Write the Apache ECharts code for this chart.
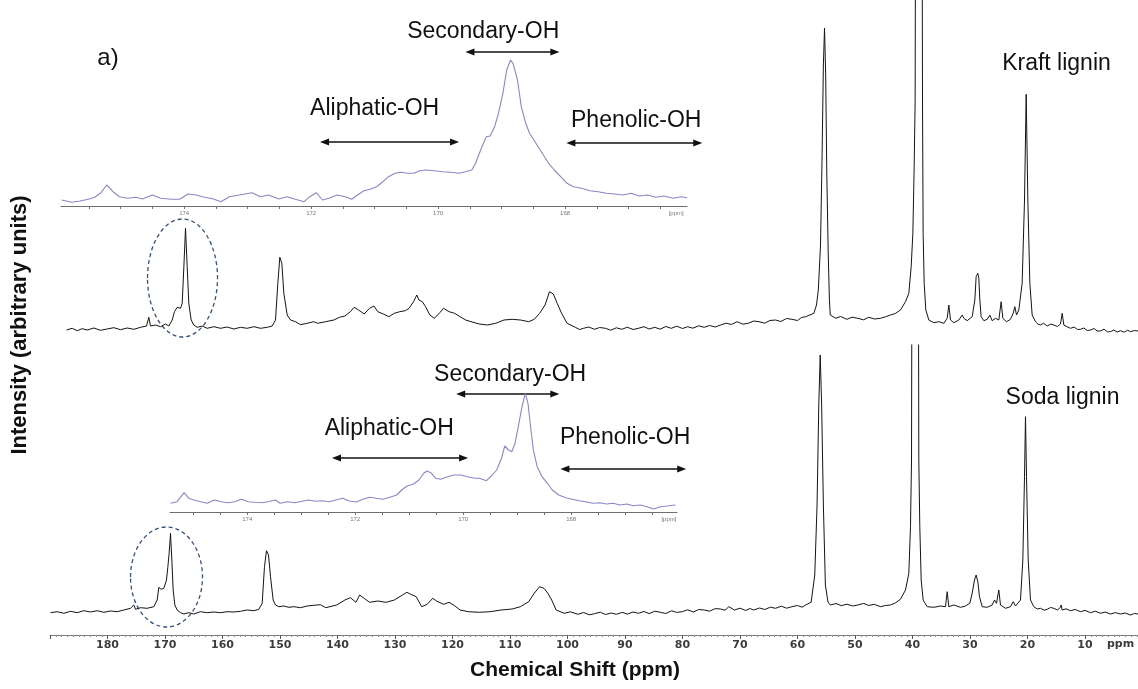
<!DOCTYPE html>
<html>
<head>
<meta charset="utf-8">
<script src="https://cdn.jsdelivr.net/npm/echarts@6/dist/echarts.min.js"></script>
<style>
  html, body { margin: 0; padding: 0; background: #ffffff; }
  #chart { width: 1138px; height: 689px; }
</style>
</head>
<body>
<div id="chart"></div>
<script>
// 13C NMR spectra of acetylated lignins: [chemical shift (ppm), intensity (arbitrary units)]
const kraftSpectrum = [
  [187.13,15],[186.14,16.7],[185.27,14.3],[184.41,16.3],[183.54,15],[182.38,17],[181.22,14.7],[180.06,16],
  [178.9,17.3],[177.74,15.3],[176.58,17],[175.42,15.7],[174.26,17.7],[173.22,19],[172.81,27.7],[172.52,19],
  [171.65,20],[170.78,18.3],[169.91,21],[169.33,19],[168.75,25],[168.35,33.3],[167.88,37.7],[167.3,36.7],
  [167.01,41.7],[166.72,78.3],[166.43,116.7],[166.14,78.3],[165.86,41.7],[165.45,25],[164.99,20],[164.41,17.7],
  [163.54,19],[162.67,16.7],[161.51,18.3],[160.35,16.7],[159.19,18],[158.03,16],[156.87,17.7],[155.71,16.7],
  [154.55,18.3],[153.39,16.7],[152.23,17.7],[151.36,19],[150.78,25],[150.38,61.7],[150.03,87.7],[149.68,81.7],
  [149.33,51.7],[148.75,30],[148.17,25],[147.3,23.3],[146.43,20.3],[145.28,21.7],[144.12,23.3],[143.48,21.7],
  [142.05,23.3],[140.63,25],[139.67,27.7],[138.71,29],[137.76,33.3],[137.1,37.7],[136.33,35],[135.37,31],
  [134.42,36.7],[133.65,39],[132.99,33.3],[132.03,31],[131.08,28.3],[130.12,31.7],[129.17,33.3],[128.21,34.3],
  [127.55,36.7],[126.78,43.3],[126.21,50],[125.83,45],[125.25,43.3],[124.68,38.3],[123.93,30],[123.16,26.7],
  [122.21,32.3],[121.55,36.7],[120.59,33.3],[119.64,31.7],[118.68,28.3],[117.72,25],[116.77,23.3],[115.34,21],
  [113.91,20],[112.47,21.7],[111.04,25],[109.62,25.7],[108.19,25],[106.75,23.3],[105.79,25.7],[104.85,31.7],
  [103.9,40],[103.13,53.3],[102.47,51],[101.79,41.7],[101.03,31.7],[100.07,21.7],[98.64,17.7],[97.9,15.5],
  [97.22,16.7],[96.3,18],[95.3,15.7],[94.4,17.5],[93.39,16.7],[92.5,14.8],[91.5,17.2],[90.54,15.7],
  [89.6,17.8],[88.6,15.5],[87.67,16.7],[86.7,18.3],[85.8,16],[84.82,17.7],[83.9,15.8],[82.9,18.5],
  [81.95,16.7],[81.0,18.8],[80.0,16.5],[79.1,18.3],[78.2,16.8],[77.2,19.2],[76.23,17.7],[75.3,19.5],
  [74.3,18],[73.37,20],[72.4,21.8],[71.5,20.5],[70.5,23.3],[69.5,20.8],[68.59,21.7],[67.6,24],
  [66.7,23.3],[65.7,21.8],[64.8,24.5],[63.83,25],[62.9,23.5],[61.9,26.5],[60.97,25.7],[60.0,24.5],
  [59.3,27.5],[58.58,28.3],[57.15,31.7],[56.7,40],[56.38,55],[56.0,100],[55.75,180],[55.5,280],
  [55.3,317],[55.1,270],[54.9,170],[54.66,92],[54.45,45],[54.3,30],[53.34,26.7],[52.5,28.5],
  [51.42,25.7],[50.5,27.8],[49.51,26.7],[48.5,25.2],[47.6,27.7],[46.6,26],[45.57,26.7],[44.7,28.2],
  [43.83,30],[43.0,31.5],[42.1,35],[41.22,43.3],[40.64,51.7],[40.23,78.3],[39.94,111.7],[39.71,178.3],
  [39.54,245],[38.9,2000],[38.26,245],[38.15,111.7],[37.97,61.7],[37.68,35],[37.16,25],[36.29,22.3],
  [35.42,23.3],[34.55,21.7],[33.97,26.7],[33.68,40],[33.39,25],[32.81,22.3],[31.94,25],[31.36,30],
  [31.07,26.7],[30.49,24.3],[29.62,28.3],[29.16,45],[28.93,68.3],[28.64,71.7],[28.46,66.7],[28.29,45],
  [28.06,28.3],[27.59,24.3],[27.01,25.7],[26.55,30],[26.15,24.3],[25.57,26.7],[24.99,25],[24.58,43.3],
  [24.29,26.7],[23.65,23.3],[22.96,25.7],[22.49,31.7],[22.2,38.3],[21.91,30],[21.51,35],[20.93,61.7],
  [20.52,145],[20.23,250.7],[19.94,145],[19.59,61.7],[19.19,30],[18.61,23.3],[18.2,21],[17.74,20],
  [17.2,21.8],[16.58,19],[16.0,20.8],[15.42,20],[14.8,18.5],[14.26,21],[13.97,31.7],[13.68,20],
  [13.1,18.2],[12.52,16.7],[11.9,18],[11.3,15.5],[10.78,15.7],[10.2,17],[9.6,14.5],[9.04,15],
  [8.4,16.5],[7.9,14],[7.3,14],[6.7,15.8],[6.1,13.2],[5.57,13.3],[5.0,15],[4.4,13],
  [3.83,14.3],[3.2,12.8],[2.6,14.8],[2.09,13.3],[1.4,14.5],[0.7,14]
];

const sodaSpectrum = [
  [189.91,22.3],[188.75,23.3],[187.59,21.7],[186.43,23.7],[185.27,22.3],[184.12,24.3],[182.96,23],[181.8,24.3],
  [180.64,22.7],[179.48,24],[178.32,23.3],[177.16,25],[176.0,26.7],[175.42,30],[175.13,25.7],[174.26,27.3],
  [173.1,26.7],[171.94,28.3],[171.36,35],[171.07,47.7],[170.67,45.7],[170.2,46.7],[169.74,55],[169.51,67.7],
  [169.28,81.7],[169.04,101.7],[168.81,75],[168.58,45],[168.29,30],[167.88,25],[167.3,22.3],[166.72,21],
  [165.86,22.3],[164.99,21],[163.83,23.3],[162.67,22.3],[161.51,23],[160.35,22.3],[159.19,23.3],[158.03,23],
  [156.87,23.7],[155.71,25],[154.55,24.3],[153.68,25.7],[153.1,31.7],[152.7,68.3],[152.35,84.3],[152.0,80],
  [151.65,58.3],[151.19,35],[150.78,30],[150.2,28.3],[149.33,29],[148.46,27.7],[147.59,28.3],[146.43,27.3],
  [145.28,29],[144.12,29.7],[142.96,30.3],[142.05,27.3],[140.14,30],[138.71,35],[137.76,37.3],[136.8,32.7],
  [136.14,40],[135.37,36.7],[134.42,32.7],[132.99,34],[131.55,32.7],[130.12,35],[128.7,40],[127.93,42.7],
  [127.27,40.7],[126.31,38.3],[125.36,28.3],[124.4,30.7],[123.44,36.7],[122.78,34],[121.55,30.7],[120.59,32.7],
  [119.64,29.3],[118.68,25],[117.25,23.3],[115.34,22.7],[113.43,23.3],[111.53,25],[109.62,26],[108.19,28.3],
  [106.75,33.3],[105.79,41.7],[104.85,48.3],[104.09,46.7],[103.41,41.7],[102.75,35],[101.98,25],[100.56,21.7],
  [99.5,23.2],[98.17,20.7],[97.2,22.5],[96.2,20.2],[95.3,21.3],[94.3,22.8],[93.4,20.5],[92.4,22],
  [91.5,20.7],[90.5,22.6],[89.6,20.9],[88.6,23],[87.67,21.7],[86.7,23.5],[85.8,21.4],[84.8,23.8],
  [83.86,22.7],[82.9,21.5],[81.9,24.2],[81.0,22.6],[80.05,23.3],[79.1,25.2],[78.1,23],[77.2,25.5],
  [76.23,25],[75.3,23.8],[74.3,26.4],[73.37,26],[72.6,24.8],[71.94,28.3],[70.97,25],[70.0,26.8],
  [69.0,24.5],[68.3,26.5],[67.63,25],[66.6,27],[65.7,25.5],[64.7,27.8],[63.83,26.7],[62.8,28.8],
  [61.9,26.8],[60.97,28.3],[60.0,29.5],[59.2,27.8],[58.58,30],[57.63,32.7],[57.0,60],[56.6,130],
  [56.3,230],[56.05,280],[55.8,230],[55.5,130],[55.15,50],[54.7,33],[54.3,30],[53.3,31.5],
  [52.38,29.3],[51.4,30.8],[50.4,29],[49.51,30],[48.5,31.6],[47.6,29.5],[46.66,30.7],[45.57,28.3],
  [44.7,29.5],[43.83,30],[43.0,32],[42.1,35.7],[41.22,45],[40.64,61.7],[40.35,108.3],[40.17,175],
  [39.54,2000],[38.9,175],[38.73,108.3],[38.49,55],[38.15,35],[37.45,28.3],[36.29,27.7],[35.13,29],
  [34.26,28.3],[33.97,43.3],[33.68,28.3],[32.81,30],[31.65,27.7],[30.78,29],[30.03,31.7],[29.62,41.7],
  [29.22,55],[28.93,60],[28.64,53.3],[28.35,38.3],[27.88,28.3],[27.01,27.7],[26.15,30],[25.74,35],
  [25.39,31.7],[24.99,45],[24.7,30],[23.83,26.7],[22.96,28.3],[22.49,33.3],[22.09,29],[21.22,35],
  [20.81,75],[20.52,158.3],[20.35,218.3],[20.17,158.3],[19.88,75],[19.48,35],[18.9,28.3],[18.3,26],
  [17.74,26.7],[17.1,24.8],[16.58,25.7],[16.0,27.5],[15.42,26.7],[14.8,25],[14.26,27.7],[14.15,30],
  [13.97,25],[13.3,26.2],[12.52,24.3],[11.7,25.5],[10.78,23.3],[10.0,24.6],[9.04,22.3],[8.2,23.8],
  [7.3,21.7],[6.5,22.9],[5.57,21],[4.7,22.4],[3.83,21],[3.0,22],[2.09,20],[1.4,21.5],[0.7,21]
];

// Expanded acetyl carbonyl region (inset spectra)
const kraftCarbonyl = [
  [175.93,6],[175.77,3.7],[175.64,5],[175.51,6.7],[175.41,8.7],[175.31,13.3],[175.22,21],[175.12,14.3],
  [175.02,9.3],[174.89,7.7],[174.76,8.7],[174.66,7],[174.5,11],[174.37,7.7],[174.2,6.7],[174.07,6.7],
  [173.94,12],[173.81,11],[173.68,8.7],[173.55,7.3],[173.42,4.3],[173.29,9.3],[173.13,11],[172.93,13.3],
  [172.8,9.3],[172.67,11],[172.51,7],[172.38,9.3],[172.25,6.7],[172.11,4.3],[172.02,9.3],[171.92,13.3],
  [171.82,6],[171.72,7.7],[171.59,11],[171.46,9.3],[171.36,6.7],[171.27,11],[171.17,15.3],[171.07,16.7],
  [170.97,19.3],[170.87,24.3],[170.78,29.3],[170.68,32.7],[170.58,33.7],[170.48,32.7],[170.38,32.7],[170.29,35.3],
  [170.19,36],[170.06,35.3],[169.93,34.3],[169.8,33.7],[169.67,32.7],[169.57,34.3],[169.47,36],[169.41,42.7],
  [169.31,59.3],[169.24,69.3],[169.18,70],[169.11,79.3],[169.05,92.7],[168.98,112.7],[168.92,136],[168.86,146],
  [168.82,142.7],[168.75,126],[168.69,99.3],[168.62,82.7],[168.56,72.7],[168.46,62.7],[168.36,52.7],[168.26,42.7],
  [168.17,36],[168.07,29.3],[167.97,22.7],[167.87,19.3],[167.74,17.7],[167.61,15.3],[167.48,14.3],[167.35,12.7],
  [167.22,12],[167.09,11],[166.96,12.7],[166.83,10],[166.7,11],[166.57,8.7],[166.44,10],[166.3,7.7],
  [166.17,9.3],[166.08,8.3]
];

const sodaCarbonyl = [
  [175.42,8.7],[175.3,10.3],[175.17,19.3],[175.08,13.7],[174.99,12],[174.86,10.3],[174.74,8.7],[174.61,12],
  [174.48,10.3],[174.36,9.3],[174.23,10.3],[174.11,12.7],[173.98,10.3],[173.86,9.7],[173.73,9.3],[173.61,10.3],
  [173.48,12],[173.39,8.7],[173.26,10.3],[173.11,9.3],[172.98,10.7],[172.86,12],[172.73,10.7],[172.61,11.3],
  [172.48,10.3],[172.36,12],[172.23,13.7],[172.11,11],[171.98,10],[171.86,12.7],[171.73,14.7],[171.61,13.7],
  [171.48,12.7],[171.36,14.7],[171.23,17],[171.14,22],[171.04,26],[170.92,28],[170.82,32],[170.73,38.7],
  [170.67,41],[170.6,39.3],[170.51,33.7],[170.42,32.7],[170.29,35.3],[170.17,37],[170.04,37],[169.92,35.3],
  [169.79,33.7],[169.7,33.7],[169.57,31.3],[169.48,36],[169.38,42],[169.29,53.7],[169.23,66],[169.16,62],
  [169.1,60.3],[169.04,68.7],[168.98,85.3],[168.91,105.3],[168.85,118.7],[168.8,108.7],[168.76,88.7],[168.7,62],
  [168.63,45.3],[168.54,35.3],[168.44,28.7],[168.35,22],[168.23,17],[168.1,14.3],[167.98,12.7],[167.85,11.3],
  [167.73,10.3],[167.6,8.7],[167.47,9.3],[167.35,8],[167.22,8.7],[167.1,7],[166.97,8],[166.85,6.3],
  [166.72,7],[166.6,5.3],[166.47,3],[166.35,5.3],[166.22,6],[166.07,7]
];

// Axis ticks and labels
const shiftLabels = [180, 170, 160, 150, 140, 130, 120, 110, 100, 90, 80, 70, 60, 50, 40, 30, 20, 10];
const kraftInsetTicks = [175.5,175,174.5,174,173.5,173,172.5,172,171.5,171,170.5,170,169.5,169,168.5,168,167.5,167,166.5];
const sodaInsetTicks = [175,174.5,174,173.5,173,172.5,172,171.5,171,170.5,170,169.5,169,168.5,168,167.5,167,166.5];
const insetLabels = [174, 172, 170, 168];

// Hydroxyl-type regions marked on each inset: [from ppm, to ppm, arrow height]
const regionNames = ['Secondary-OH', 'Aliphatic-OH', 'Phenolic-OH'];
const kraftRegions = [[169.57, 168.09, 154], [171.86, 169.67, 64], [167.98, 165.84, 63]];
const sodaRegions = [[170.13, 168.22, 118], [172.43, 169.91, 54], [168.2, 165.87, 43]];

// Label anchors (inset coordinates) for the region names, and other annotation layout
const layout = {
  kraftText: [[169.29, 174], [171.0, 97], [166.88, 85]],
  sodaText: [[169.13, 137], [171.37, 83], [167.0, 74]],
  ellipses: [
    { grid: 0, from: 173.04, to: 160.87, low: 8, high: 126 },
    { grid: 1, from: 176.0, to: 163.48, low: 8, high: 108 }
  ],
  sampleLabels: [
    { grid: 0, text: 'Kraft lignin', at: [14.96, 281] },
    { grid: 1, text: 'Soda lignin', at: [13.91, 237] }
  ]
};

const SANS = '"Liberation Sans", Arial, Helvetica, sans-serif';
const chart = echarts.init(document.getElementById('chart'), null, { renderer: 'canvas' });

function hiddenX(grid, min, max) {
  return { gridIndex: grid, type: 'value', inverse: true, min: min, max: max, show: false };
}
function hiddenY(grid, max) {
  return { gridIndex: grid, type: 'value', min: 0, max: max, show: false };
}
function insetX(grid, min, max, ticks, ppmAt) {
  return {
    gridIndex: grid, type: 'value', inverse: true, min: min, max: max,
    axisLine: { show: true, lineStyle: { color: '#6f6f6f', width: 1 } },
    axisTick: { show: true, customValues: ticks, length: 3, lineStyle: { color: '#6f6f6f', width: 1 } },
    axisLabel: {
      show: true, customValues: insetLabels.concat([ppmAt]), margin: 4, fontSize: 6,
      color: '#777', fontFamily: SANS,
      formatter: function (v) { return insetLabels.indexOf(v) >= 0 ? String(v) : '[ppm]'; }
    },
    splitLine: { show: false }
  };
}

const option = {
  animation: false,
  backgroundColor: '#ffffff',
  grid: [
    { left: 50, top: 0, width: 1092.5, height: 345, outerBoundsMode: 'none' },
    { left: 50, top: 345, width: 1092.5, height: 290, outerBoundsMode: 'none' },
    { left: 61, top: 0, width: 626, height: 206, outerBoundsMode: 'none' },
    { left: 170, top: 340, width: 507, height: 172, outerBoundsMode: 'none' }
  ],
  xAxis: [
    hiddenX(0, 0, 190),
    {
      gridIndex: 1, type: 'value', inverse: true, min: 0, max: 190, interval: 10,
      axisLine: { show: true, lineStyle: { color: '#7a7a7a', width: 1 } },
      axisTick: { show: true, length: 4, lineStyle: { color: '#555', width: 1 } },
      minorTick: { show: true, splitNumber: 10, length: 2, lineStyle: { color: '#8a8a8a', width: 1 } },
      splitLine: { show: false },
      minorSplitLine: { show: false },
      axisLabel: {
        show: true, margin: 5, fontSize: 11, fontWeight: 'bold', fontFamily: '"DejaVu Sans", sans-serif',
        color: '#3c3c3c', showMinLabel: true, showMaxLabel: true,
        formatter: function (v) { return shiftLabels.indexOf(v) >= 0 ? String(v) : ''; }
      }
    },
    insetX(2, 166.08, 175.94, kraftInsetTicks, 166.25),
    insetX(3, 166.04, 175.43, sodaInsetTicks, 166.19)
  ],
  yAxis: [hiddenY(0, 345), hiddenY(1, 290), hiddenY(2, 206), hiddenY(3, 172)],
  series: [
    {
      name: 'Kraft lignin', type: 'line', xAxisIndex: 0, yAxisIndex: 0, data: kraftSpectrum,
      showSymbol: false, symbol: 'none', clip: true, silent: true,
      lineStyle: { color: '#141414', width: 1 }
    },
    {
      name: 'Soda lignin', type: 'line', xAxisIndex: 1, yAxisIndex: 1, data: sodaSpectrum,
      showSymbol: false, symbol: 'none', clip: true, silent: true,
      lineStyle: { color: '#141414', width: 1 }
    },
    {
      name: 'Kraft lignin carbonyl', type: 'line', xAxisIndex: 2, yAxisIndex: 2, data: kraftCarbonyl,
      showSymbol: false, symbol: 'none', clip: false, silent: true,
      lineStyle: { color: '#8888c6', width: 1.1 }
    },
    {
      name: 'Soda lignin carbonyl', type: 'line', xAxisIndex: 3, yAxisIndex: 3, data: sodaCarbonyl,
      showSymbol: false, symbol: 'none', clip: false, silent: true,
      lineStyle: { color: '#8888c6', width: 1.1 }
    }
  ]
};

chart.setOption(option);

// Annotations placed through the grids' own coordinate conversion
function at(grid, p) { return chart.convertToPixel({ gridIndex: grid }, p); }
function textEl(x, y, text, font, extra) {
  const el = {
    type: 'text', x: x, y: y, silent: true,
    style: {
      text: text, font: font, fill: '#111',
      align: 'center', verticalAlign: 'middle', textAlign: 'center', textVerticalAlign: 'middle'
    }
  };
  return Object.assign(el, extra || {});
}
// Double-headed arrow spanning a chemical-shift range on an inset
function rangeArrow(grid, r, out) {
  const a = at(grid, [r[0], r[2]]);
  const b = at(grid, [r[1], r[2]]);
  const y = a[1], head = 9, half = 3.6;
  const x1 = Math.min(a[0], b[0]), x2 = Math.max(a[0], b[0]);
  out.push({ type: 'line', silent: true, shape: { x1: x1 + head - 1, y1: y, x2: x2 - head + 1, y2: y },
             style: { stroke: '#111', lineWidth: 1.3 } });
  out.push({ type: 'polygon', silent: true, shape: { points: [[x1, y], [x1 + head, y - half], [x1 + head, y + half]] },
             style: { fill: '#111' } });
  out.push({ type: 'polygon', silent: true, shape: { points: [[x2, y], [x2 - head, y - half], [x2 - head, y + half]] },
             style: { fill: '#111' } });
}

const graphics = [];
const noteFont = '23px ' + SANS;
layout.kraftText.forEach(function (a, i) {
  const p = at(2, a);
  graphics.push(textEl(p[0], p[1], regionNames[i], noteFont));
});
layout.sodaText.forEach(function (a, i) {
  const p = at(3, a);
  graphics.push(textEl(p[0], p[1], regionNames[i], noteFont));
});
kraftRegions.forEach(function (r) { rangeArrow(2, r, graphics); });
sodaRegions.forEach(function (r) { rangeArrow(3, r, graphics); });
layout.sampleLabels.forEach(function (s) {
  const p = at(s.grid, s.at);
  graphics.push(textEl(p[0], p[1], s.text, noteFont));
});
layout.ellipses.forEach(function (e) {
  const a = at(e.grid, [e.from, e.high]);
  const b = at(e.grid, [e.to, e.low]);
  graphics.push({
    type: 'ellipse', silent: true,
    shape: { cx: (a[0] + b[0]) / 2, cy: (a[1] + b[1]) / 2, rx: Math.abs(b[0] - a[0]) / 2, ry: Math.abs(b[1] - a[1]) / 2 },
    style: { fill: 'none', stroke: '#34507f', lineWidth: 1.3, lineDash: [4, 3] }
  });
});

// Panel tag and axis titles
graphics.push(textEl(108, 58, 'a)', '24px ' + SANS));
const tenPpm = at(1, [10, 0]);
graphics.push({
  type: 'text', x: tenPpm[0] + 22, y: 644, silent: true,
  style: { text: 'ppm', font: 'bold 11px "DejaVu Sans", sans-serif', fill: '#3c3c3c',
           align: 'left', verticalAlign: 'middle', textAlign: 'left', textVerticalAlign: 'middle' }
});
graphics.push(textEl(575, 670, 'Chemical Shift (ppm)', 'bold 21px ' + SANS));
graphics.push(textEl(20, 325, 'Intensity (arbitrary units)', 'bold 22px ' + SANS, { rotation: Math.PI / 2 }));

chart.setOption({ graphic: graphics });
</script>
</body>
</html>
